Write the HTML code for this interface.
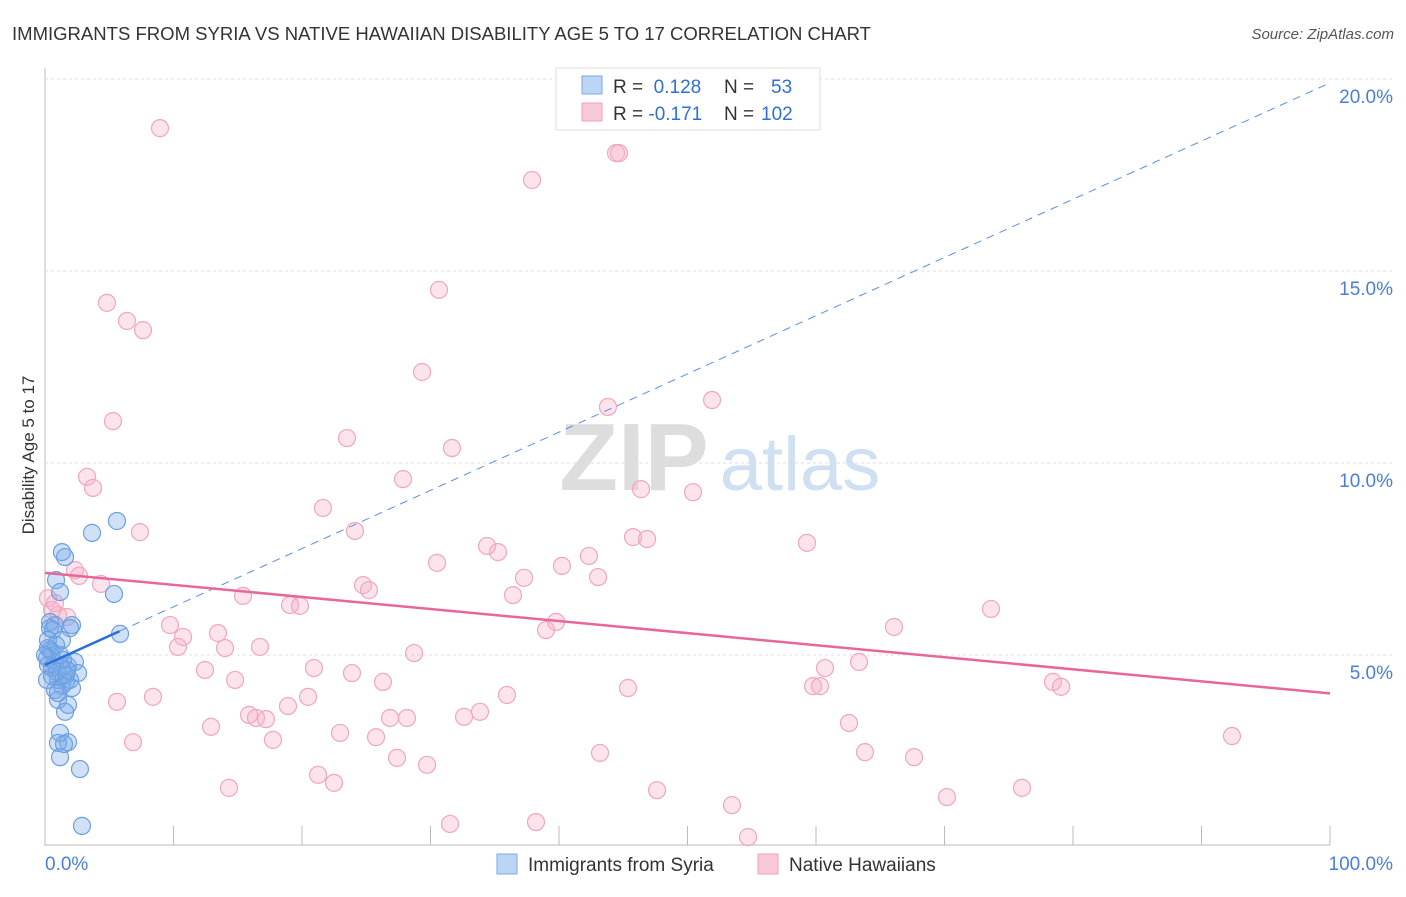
<!DOCTYPE html>
<html><head><meta charset="utf-8"><style>
body{margin:0;background:#fff;font-family:"Liberation Sans",sans-serif}
svg text{font-family:"Liberation Sans",sans-serif}
</style></head><body>
<svg id="c" width="1406" height="892" xmlns="http://www.w3.org/2000/svg">
<text x="12" y="40" font-size="18" fill="#333" textLength="859" lengthAdjust="spacingAndGlyphs">IMMIGRANTS FROM SYRIA VS NATIVE HAWAIIAN DISABILITY AGE 5 TO 17 CORRELATION CHART</text>
<text x="1394" y="39" font-size="15" fill="#555" text-anchor="end" font-style="italic">Source: ZipAtlas.com</text>
<text x="34" y="455" font-size="17" fill="#333" text-anchor="middle" transform="rotate(-90 34 455)">Disability Age 5 to 17</text>
<g><text x="634" y="490" font-size="96" fill="#ddd" text-anchor="middle" font-family="Liberation Serif" font-weight="bold">ZIP</text><text x="800" y="490" font-size="76" fill="#cfe0f3" text-anchor="middle">atlas</text></g>
<g id="grid"></g><g id="marks"></g><g id="lines"></g>
<g>
<rect x="556" y="68" width="264" height="62" fill="#fff" stroke="#ddd"/>
<rect x="582" y="76" width="20" height="18" fill="#bcd5f5" stroke="#7ba9e6"/>
<rect x="582" y="103" width="20" height="18" fill="#f9c9d7" stroke="#f0a0b8"/>
<text x="613" y="93" font-size="19" fill="#333">R = <tspan fill="#2f6fd6">&#160;0.128</tspan><tspan x="724">N = </tspan><tspan x="771" fill="#2f6fd6">53</tspan></text>
<text x="613" y="120" font-size="19" fill="#333">R = <tspan fill="#2f6fd6">-0.171</tspan><tspan x="724">N = </tspan><tspan x="761" fill="#2f6fd6">102</tspan></text>
</g>
<g>
<rect x="497" y="854" width="20" height="20" fill="#bcd5f5" stroke="#7ba9e6"/>
<text x="528" y="871" font-size="19" fill="#333">Immigrants from Syria</text>
<rect x="758" y="854" width="20" height="20" fill="#f9c9d7" stroke="#f0a0b8"/>
<text x="789" y="871" font-size="19" fill="#333">Native Hawaiians</text>
</g>
</svg>
<script>
const yTicks=[5,10,15,20];
const yTickLabels=["5.0%","10.0%","15.0%","20.0%"];
const xTickLabels=["0.0%","100.0%"];
const syriaX=[5.6,3.66,1.32,1.56,0.86,1.17,5.37,5.84,0.39,0.78,2.1,1.95,1.32,0.23,0.54,0.16,0.78,1.79,2.33,1.32,2.57,0.54,1.01,1.63,1.95,1.32,0.78,1.01,1.79,1.56,1.17,1.79,1.01,1.48,1.17,2.72,2.88,0.39,0,0.23,0.54,0.93,1.63,0.16,0.39,0.62,1.4,1.71,2.1,0.86,1.17,0.23,1.01];
const syriaY=[8.49,8.18,7.68,7.55,6.95,6.64,6.59,5.55,5.86,5.78,5.78,5.7,5.39,5.18,5.08,4.92,4.79,4.71,4.82,4.66,4.53,4.45,4.35,4.3,4.35,4.19,4.09,3.83,3.7,3.52,2.97,2.73,2.71,2.68,2.34,2.03,0.55,5.13,5.0,4.74,4.66,4.56,4.48,4.35,5.7,5.65,4.87,4.61,4.14,5.26,5.0,5.39,4.01];
const hawX=[8.95,44.44,44.67,37.9,4.82,6.38,7.63,30.66,29.34,5.29,43.81,51.91,23.5,31.67,3.27,3.74,27.86,46.38,50.43,21.63,7.39,24.12,45.76,46.85,59.3,34.4,35.25,42.33,30.51,40.23,2.33,2.65,37.28,43.04,4.36,24.75,25.21,15.41,36.42,19.07,19.84,73.62,0.54,1.01,1.71,39.77,38.99,9.73,66.07,13.46,10.74,10.35,14.01,16.73,28.72,63.35,60.7,20.93,23.89,12.45,14.79,26.3,78.44,79.07,45.37,59.77,60.31,8.4,20.47,35.95,5.6,18.91,33.85,32.61,15.88,16.42,17.2,26.85,28.17,12.92,62.57,22.96,25.76,17.74,6.85,92.37,43.19,63.81,67.63,27.39,29.73,21.25,22.49,14.32,47.63,76.03,70.19,53.46,31.52,38.21,54.71,0.23,0.78];
const hawY=[18.72,18.07,18.07,17.37,14.17,13.7,13.46,14.51,12.37,11.09,11.46,11.64,10.65,10.39,9.64,9.35,9.58,9.32,9.24,8.83,8.2,8.23,8.07,8.02,7.92,7.84,7.68,7.58,7.4,7.32,7.21,7.06,7.01,7.03,6.85,6.82,6.69,6.54,6.56,6.3,6.28,6.2,6.17,6.04,5.99,5.86,5.65,5.78,5.73,5.57,5.47,5.21,5.18,5.21,5.05,4.82,4.66,4.66,4.53,4.61,4.35,4.3,4.3,4.17,4.14,4.19,4.19,3.91,3.91,3.96,3.78,3.67,3.52,3.39,3.44,3.36,3.33,3.36,3.36,3.13,3.23,2.97,2.86,2.79,2.73,2.89,2.45,2.47,2.34,2.32,2.14,1.88,1.67,1.54,1.48,1.54,1.3,1.09,0.6,0.65,0.26,6.48,6.35];
const syriaTrend=[4.74,19.9];
const hawTrend=[7.14,4.0];
const NS="http://www.w3.org/2000/svg";
const xs=v=>45+v*12.85, ys=v=>847-v*38.4;
function mk(t,a,p){const e=document.createElementNS(NS,t);for(const k in a)e.setAttribute(k,a[k]);p.appendChild(e);return e;}
const svg=document.getElementById('c'),grid=document.getElementById('grid'),marks=document.getElementById('marks'),lines=document.getElementById('lines');
let ax=mk('line',{x1:45,y1:68,x2:45,y2:846,stroke:'#bbb'},grid);


let bx=mk('line',{x1:45,y1:845,x2:1330,y2:845,stroke:'#bbb'},grid);


for(let i=0;i<=10;i++){let t=mk('line',{x1:xs(i*10),y1:826,x2:xs(i*10),y2:845,stroke:'#bbb'},grid);

}
yTicks.forEach((v,i)=>{let g=mk('line',{x1:45,y1:ys(v),x2:1392,y2:ys(v),stroke:'#ddd','stroke-dasharray':'3,3'},grid);


let t=mk('text',{x:1393,y:ys(v)+24,'font-size':19,fill:'#4a7fd4','text-anchor':'end'},grid);t.textContent=yTickLabels[i];

});
[[45,'start'],[1393,'end']].forEach((p,i)=>{let t=mk('text',{x:p[0],y:870,'font-size':19,fill:'#4a7fd4','text-anchor':p[1]},grid);t.textContent=xTickLabels[i];

});
hawX.forEach((x,i)=>{let c=mk('circle',{cx:xs(x),cy:ys(hawY[i]),r:8.5,fill:'rgba(246,175,200,0.35)',stroke:'#f0a6bf','stroke-width':1.2},marks);

});
syriaX.forEach((x,i)=>{let c=mk('circle',{cx:xs(x),cy:ys(syriaY[i]),r:8.5,fill:'rgba(120,170,232,0.35)',stroke:'#6c9fe2','stroke-width':1.2},marks);

});
const sy=x=>syriaTrend[0]+(syriaTrend[1]-syriaTrend[0])*x/100;
let l1=mk('line',{x1:xs(5.8),y1:ys(sy(5.8)),x2:xs(100),y2:ys(sy(100)),stroke:'#5b8fe0','stroke-width':1,'stroke-dasharray':'8,6'},lines);


let l2=mk('line',{x1:xs(0),y1:ys(sy(0)),x2:xs(5.8),y2:ys(sy(5.8)),stroke:'#2a6fd8','stroke-width':2.5},lines);


let l3=mk('line',{x1:xs(0),y1:ys(hawTrend[0]),x2:xs(100),y2:ys(hawTrend[1]),stroke:'#e8679a','stroke-width':2.5},lines);


</script>
</body></html>
